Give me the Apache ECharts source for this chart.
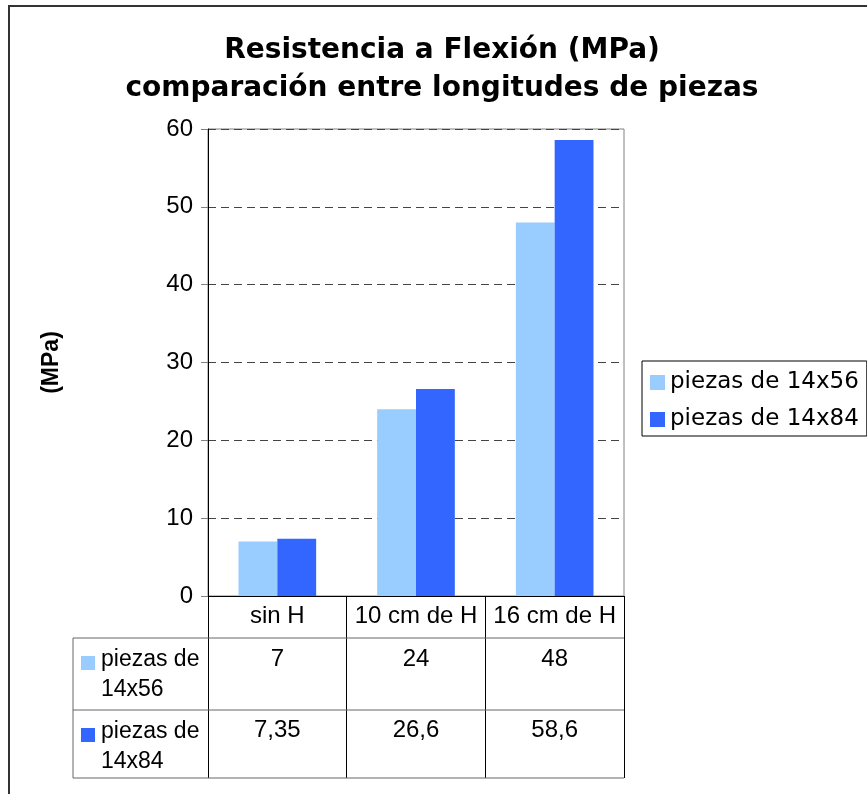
<!DOCTYPE html>
<html>
<head>
<meta charset="utf-8">
<script src="https://cdn.jsdelivr.net/npm/echarts@6/dist/echarts.min.js"></script>
<style>
  html, body { margin: 0; padding: 0; background: #fff; }
  #main { width: 867px; height: 794px; }
</style>
</head>
<body>
<div id="main"></div>
<script>
// datos
var categories = ['sin H', '10 cm de H', '16 cm de H'];
var seriesNames = ['piezas de 14x56', 'piezas de 14x84'];
var piezas14x56 = [7, 24, 48];
var piezas14x84 = [7.35, 26.6, 58.6];
var colors = ['#99CCFF', '#3366FF'];

var gridLeft = 208, gridTop = 129, gridRight = 624, gridBottom = 596;
var tableLeft = 73, row1 = 638, row2 = 710, row3 = 778;

function fmt(v) { return String(v).replace('.', ','); }
function wrapName(n) { var i = n.lastIndexOf(' '); return n.slice(0, i) + '\n' + n.slice(i + 1); }

var myChart = echarts.init(document.getElementById('main'));

var labelFont = { fontFamily: 'Liberation Sans', fontSize: 24, color: '#000' };

// lineas de la tabla de datos
var tableLines = [row1, row2, row3].map(function (y) {
  return { type: 'line', shape: { x1: tableLeft, y1: y, x2: gridRight, y2: y },
           style: { stroke: '#666', lineWidth: 1 }, z: 10 };
});
tableLines.push({ type: 'line', shape: { x1: tableLeft, y1: row1, x2: tableLeft, y2: row3 },
                  style: { stroke: '#666', lineWidth: 1 }, z: 10 });

// cabeceras de filas
var rowHeads = [];
[row1, row2].forEach(function (y, i) {
  rowHeads.push({ type: 'rect', shape: { x: 81, y: y + 18, width: 14, height: 14 },
                  style: { fill: colors[i] }, z: 10 });
  rowHeads.push({ type: 'text', x: 101, y: y + 7, z: 10,
                  style: { text: wrapName(seriesNames[i]), font: '23px "Liberation Sans"',
                           lineHeight: 30, fill: '#000', textVerticalAlign: 'top' } });
});

myChart.setOption({
  animation: false,
  title: {
    text: 'Resistencia a Flexión (MPa)\ncomparación entre longitudes de piezas',
    left: 442,
    top: 32,
    padding: 0,
    textAlign: 'center',
    textStyle: { fontFamily: 'DejaVu Sans', fontWeight: 'bold', fontSize: 28, lineHeight: 38, color: '#000' }
  },
  legend: {
    data: seriesNames,
    orient: 'vertical',
    left: 642,
    top: 361,
    padding: [10, 8, 5, 8],
    borderColor: '#000',
    borderWidth: 1,
    itemWidth: 15,
    itemHeight: 15,
    itemGap: 14,
    icon: 'rect',
    textStyle: { fontFamily: 'DejaVu Sans', fontSize: 23, color: '#000' }
  },
  grid: {
    left: gridLeft, top: gridTop, width: gridRight - gridLeft, height: gridBottom - gridTop,
    show: true, borderColor: '#808080', borderWidth: 1, backgroundColor: 'transparent'
  },
  xAxis: [
    {
      type: 'category', data: categories, position: 'bottom',
      axisLine: { lineStyle: { color: '#000' } },
      axisTick: { show: true, interval: 0, length: row3 - gridBottom, lineStyle: { color: '#000' } },
      axisLabel: Object.assign({ margin: 8, interval: 0 }, labelFont),
      splitLine: { show: false }
    },
    {
      type: 'category', data: piezas14x56.map(fmt), position: 'bottom', offset: row1 - gridBottom,
      axisLine: { show: false }, axisTick: { show: false },
      axisLabel: Object.assign({ margin: 9, interval: 0 }, labelFont)
    },
    {
      type: 'category', data: piezas14x84.map(fmt), position: 'bottom', offset: row2 - gridBottom,
      axisLine: { show: false }, axisTick: { show: false },
      axisLabel: Object.assign({ margin: 8, interval: 0 }, labelFont)
    }
  ],
  yAxis: {
    type: 'value', min: 0, max: 60, interval: 10,
    name: '(MPa)', nameLocation: 'middle', nameGap: 145, nameRotate: 90,
    nameTextStyle: { fontFamily: 'Liberation Sans', fontWeight: 'bold', fontSize: 23, color: '#000' },
    axisLine: { show: true, lineStyle: { color: '#000' } },
    axisTick: { show: true, length: 7, lineStyle: { color: '#808080' } },
    axisLabel: Object.assign({ margin: 15 }, labelFont),
    splitLine: { show: true, lineStyle: { color: '#444', type: [8, 5] } }
  },
  series: [
    { name: seriesNames[0], type: 'bar', data: piezas14x56, itemStyle: { color: colors[0] },
      barGap: '0%', barCategoryGap: '44%' },
    { name: seriesNames[1], type: 'bar', data: piezas14x84, itemStyle: { color: colors[1] },
      barGap: '0%', barCategoryGap: '44%' }
  ],
  graphic: [
    { type: 'rect', shape: { x: 9, y: 6, width: 900, height: 900 },
      style: { fill: null, stroke: '#333', lineWidth: 2 }, z: 0, silent: true }
  ].concat(tableLines, rowHeads)
});
</script>
</body>
</html>
